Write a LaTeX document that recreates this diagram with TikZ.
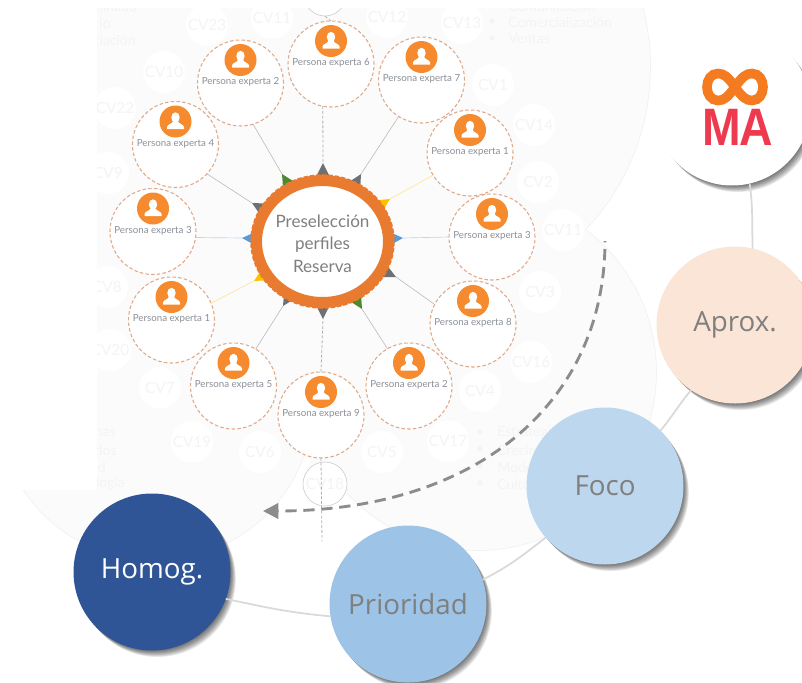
\documentclass[tikz,border=0pt]{standalone}
\usepackage{fontspec}
\setmainfont{Open Sans}
\newfontfamily\latof{Lato}
\newfontfamily\logof{Liberation Sans}
\usetikzlibrary{calc,arrows.meta,shapes.geometric}
\definecolor{bgfill}{HTML}{FBFBFB}
\definecolor{bgedge}{HTML}{F1F1F1}
\definecolor{faint}{HTML}{F4F4F4}
\definecolor{orangeA}{HTML}{F58A2E}
\definecolor{ringc}{HTML}{E97B30}
\definecolor{dashc}{HTML}{DFA98A}
\definecolor{txtg}{HTML}{7F7F7F}
\definecolor{pertxt}{HTML}{8B9098}
\definecolor{spg}{HTML}{6F7073}
\definecolor{spgr}{HTML}{4C8A2E}
\definecolor{spy}{HTML}{FFC000}
\definecolor{spb}{HTML}{5B9BD5}
\definecolor{arcg}{HTML}{D9D9D9}
\definecolor{arrowg}{HTML}{8C8C8C}
\definecolor{apr}{HTML}{FBE5D6}
\definecolor{foc}{HTML}{BDD7EE}
\definecolor{pri}{HTML}{9DC3E6}
\definecolor{hom}{HTML}{2F5597}
\definecolor{logoo}{HTML}{F57B20}
\definecolor{logor}{HTML}{EE3A4F}
\tikzset{
  x=0.75pt,y=-0.75pt,
  cvc/.style={circle,fill=white,minimum size=31.5pt,inner sep=0pt,outer sep=0pt,text=faint,font=\latof\fontsize{11.5}{12}\selectfont},
  ghost/.style={text=faint,font=\latof\fontsize{10.5}{12}\selectfont,inner sep=0pt},
  pcirc/.style={circle,draw=dashc,fill=white,line width=0.8pt,dash pattern=on 2.6pt off 1.7pt,minimum size=64.5pt,inner sep=0pt,outer sep=0pt},
  picon/.style={circle,fill=orangeA,minimum size=24pt,inner sep=0pt,outer sep=0pt},
  ptext/.style={text=pertxt,font=\latof\fontsize{7.3}{8}\selectfont,inner sep=0pt},
  conn/.style={draw=#1,line width=0.5pt},
  connd/.style={draw=spg!55,line width=0.6pt,dash pattern=on 2.2pt off 1.4pt},
  bigc/.style={circle,minimum size=117.75pt,inner sep=0pt,outer sep=0pt,font=\fontsize{20.8}{22}\selectfont},
  arcl/.style={draw=arcg,line width=1.3pt},
}
\newcommand{\persona}[4]{%
  \node[pcirc] (#1) at (#2,#3) {};
  \begin{scope}[shift={(#2,#3)}]
    \node[picon] (#1i) at (0,-23) {};
    \fill[white] (0,-27) ellipse[x radius=4.2,y radius=5.2];
    \fill[white] (-8.5,-15.5) -- (-8.5,-17.5) .. controls (-8.5,-20) and (-3.5,-20.5) .. (-2.6,-23) -- (2.6,-23) .. controls (3.5,-20.5) and (8.5,-20) .. (8.5,-17.5) -- (8.5,-15.5) -- cycle;
    \node[ptext] (#1t) at (0,-1) {#4};
  \end{scope}}
\newcommand{\spike}[4]{%
  \coordinate (#1) at (#2,#3);
  \coordinate (#1b) at ($(#1)!15pt!(rc)$);
  \fill[#4] (#1) -- ($(#1b)!7.5pt!90:(rc)$) -- ($(#1b)!7.5pt!-90:(rc)$) -- cycle;}
\newcommand{\softshadow}[3]{%
  \foreach \k in {1,...,8}{
    \fill[black,opacity=0.085] ({#1+\k*0.7},{#2+\k*0.85}) circle[radius={#3-0.8}];}}
\begin{document}
\begin{tikzpicture}
\useasboundingbox (0,0) rectangle (802,682);
\fill[white] (0,0) rectangle (802,682);
% faded background picture
\begin{scope}
  \clip (97,8) -- (802,8) -- (802,682) -- (0,682) -- (0,490) -- (97,490) -- cycle;
  \draw[bgedge,line width=1.2pt] (414,67) circle[radius=236];
  \draw[bgedge,line width=1.2pt] (478,372) circle[radius=178];
  \draw[bgedge,line width=1.2pt] (155,402) circle[radius=158];
  \fill[bgfill] (414,67) circle[radius=236];
  \fill[bgfill] (478,372) circle[radius=178];
  \fill[bgfill] (155,402) circle[radius=158];
  \fill[bgfill] (90,0) rectangle (420,420);
  \fill[bgfill] (300,200) -- (585,238) -- (590,300) -- (350,495) -- (310,465) -- cycle;
  \node[cvc] (cv23) at (207,25) {CV23};
  \node[cvc] (cv11) at (272,18) {CV11};
  \node[cvc] (cv12) at (387,17) {CV12};
  \node[cvc] (cv13) at (462,23) {CV13};
  \node[cvc] (cv10) at (164,72) {CV10};
  \node[cvc] (cv22) at (115,108) {CV22};
  \node[cvc] (cv9) at (108,173) {CV9};
  \node[cvc] (cv1) at (493,85) {CV1};
  \node[cvc] (cv14) at (534,125) {CV14};
  \node[cvc] (cv2) at (538,182) {CV2};
  \node[cvc] (cv15) at (563,230) {CV11};
  \node[cvc] (cv8) at (107,287) {CV8};
  \node[cvc] (cv20) at (110,350) {CV20};
  \node[cvc] (cv7) at (160,388) {CV7};
  \node[cvc] (cv19) at (192,442) {CV19};
  \node[cvc] (cv6) at (260,452) {CV6};
  \node[cvc] (cv5) at (382,452) {CV5};
  \node[cvc] (cv17) at (448,441) {CV17};
  \node[cvc] (cv4) at (480,391) {CV4};
  \node[cvc] (cv16) at (531,362) {CV16};
  \node[cvc] (cv3) at (540,292) {CV3};
  \node[cvc,draw=black!22,line width=0.4pt,minimum size=33pt] (cv18) at (325,484) {CV18};
  \node[circle,draw=black!22,fill=white,line width=0.4pt,minimum size=31.5pt,inner sep=0pt] (topc) at (325,-5) {};
  \node[ghost,anchor=east] (gl1) at (137,6) {minado};
  \node[ghost,anchor=east] (gl2) at (111,23) {cio};
  \node[ghost,anchor=east] (gl3) at (136,40) {ciación};
  \node[ghost,anchor=west] (gr1) at (508,6) {Comunicación};
  \node[ghost,anchor=west] (gr2) at (508,22) {Comercialización};
  \node[ghost,anchor=west] (gr3) at (508,39) {Ventas};
  \node[ghost] (br1) at (492,22) {•};
  \node[ghost] (br2) at (492,39) {•};
  \node[ghost,anchor=east] (hl1) at (116,433) {nas};
  \node[ghost,anchor=east] (hl2) at (117,450) {dos};
  \node[ghost,anchor=east] (hl3) at (106,467) {d};
  \node[ghost,anchor=east] (hl4) at (125,484) {logía};
  \node[ghost,anchor=west] (hr1) at (497,433) {Estrategia};
  \node[ghost,anchor=west] (hr2) at (497,450) {Crecimiento};
  \node[ghost,anchor=west] (hr3) at (497,467) {Modelo};
  \node[ghost,anchor=west] (hr4) at (497,484) {Cultura};
  \node[ghost] (bb1) at (480,433) {•};
  \node[ghost] (bb2) at (480,450) {•};
  \node[ghost] (bb3) at (480,467) {•};
  \node[ghost] (bb4) at (480,484) {•};
\end{scope}
% spikes
\coordinate (rc) at (322.5,241.5);
\spike{t6}{323}{163}{spg}
\spike{t2}{282}{174}{spgr}
\spike{t4}{252}{203}{spg}
\spike{t3}{242}{238}{spb}
\spike{t7}{361}{174}{spg}
\spike{t1}{390}{199}{spy}
\spike{t3r}{403}{238}{spb}
\spike{t8}{396}{277}{spg}
\spike{t2b}{362}{309}{spgr}
\spike{t9}{323}{319}{spg}
\spike{t5}{283}{306}{spg}
\spike{t1l}{254}{281}{spy}
% personas
\persona{p6}{331}{64}{Persona experta 6}
\persona{p2}{240.5}{83}{Persona experta 2}
\persona{p4}{175.5}{144.5}{Persona experta 4}
\persona{p3}{153}{231.5}{Persona experta 3}
\persona{p7}{421.5}{80}{Persona experta 7}
\persona{p1}{470}{153}{Persona experta 1}
\persona{p3r}{492}{237}{Persona experta 3}
\persona{p8}{473}{324}{Persona experta 8}
\persona{p2b}{409}{386}{Persona experta 2}
\persona{p9}{321}{415}{Persona experta 9}
\persona{p5}{233.5}{386}{Persona experta 5}
\persona{p1l}{171.5}{320}{Persona experta 1}
% connectors
\draw[connd] (p6.-101) -- (t6);
\draw[connd] (topc.south) -- (p6.north);
\draw[conn=spg!45] (p2.-73) -- (t2);
\draw[conn=spg!45] (p4.-43) -- (t4);
\draw[conn=spb!40] (p3.-8) -- (t3);
\draw[conn=spg!45] (p7.238) -- (t7);
\draw[conn=spy!40] (p1.211) -- (t1);
\draw[conn=spb!40] (p3r.180) -- (t3r);
\draw[conn=spg!45] (p8.153) -- (t8);
\draw[conn=spg!45] (p2b.120) -- (t2b);
\draw[connd] (p9.90) -- (t9);
\draw[conn=spg!45] (p5.59) -- (t5);
\draw[conn=spy!40] (p1l.23) -- (t1l);
\coordinate (vend) at (322,541);
\draw[connd] (p9.-90) -- (vend);
% ring
\draw[ringc,line width=9.4pt,dash pattern=on 3pt off 1.4pt] (rc) ellipse[x radius=66,y radius=61];
\node[ellipse,draw=ringc,fill=white,line width=8.25pt,minimum width=99pt,minimum height=91.5pt,inner sep=0pt,outer sep=0pt] (ring) at (rc) {};
\node[text=txtg,align=center,inner sep=0pt,font=\latof\fontsize{12.8}{17}\selectfont] (ringt) at (322.5,243.5) {Preselección\\perfiles\\Reserva};
% dashed arrow
\coordinate (ds) at (605,241);
\coordinate (de) at (263,511);
\draw[arrowg,line width=2.15pt,dash pattern=on 8.5pt off 5pt,dash phase=7.5pt,-{Triangle[length=11.5pt,width=11.5pt]}] (ds) .. controls (605,400) and (480,511) .. (de);
% outer arc
\softshadow{732}{107}{79}
\softshadow{735}{325}{79}
\softshadow{605}{486}{79}
\softshadow{408}{604}{79}
\softshadow{152}{572}{79}
\node[bigc,fill=white] (ma) at (732,107) {};
\node[bigc,fill=apr,text=txtg] (aprox) at (735,325) {Aprox.};
\node[bigc,fill=foc,text=txtg] (foco) at (605,486) {Foco};
\node[bigc,fill=pri,text=txtg] (prio) at (408,604) {Prioridad};
\node[bigc,fill=hom,text=white] (homog) at (152,572) {Homog.};
\draw[arcl] (ma.-77) to[out=-82,in=92] (aprox.77);
\draw[arcl] (aprox.236.5) to[out=-130,in=50] (foco.45);
\draw[arcl] (foco.221) to[out=-142,in=27] (prio.18);
\draw[arcl] (prio.189.5) to[out=175,in=-12] (homog.-20);
% logo
\draw[logoo,line width=7.2pt] (735,87) .. controls (742,77) and (746,73.5) .. (752,73.5) .. controls (759,73.5) and (763,80) .. (763,87) .. controls (763,94) and (759,100.5) .. (752,100.5) .. controls (746,100.5) and (742,97) .. (735,87) .. controls (728,77) and (724,73.5) .. (718,73.5) .. controls (711,73.5) and (707,80) .. (707,87) .. controls (707,94) and (711,100.5) .. (718,100.5) .. controls (724,100.5) and (728,97) .. (735,87) -- cycle;
\node[text=logor,inner sep=0pt,xscale=0.88,font=\logof\bfseries\fontsize{39.5}{40}\selectfont] (malogo) at (737.5,127) {M\kern-1.5ptA};
\end{tikzpicture}
\end{document}
